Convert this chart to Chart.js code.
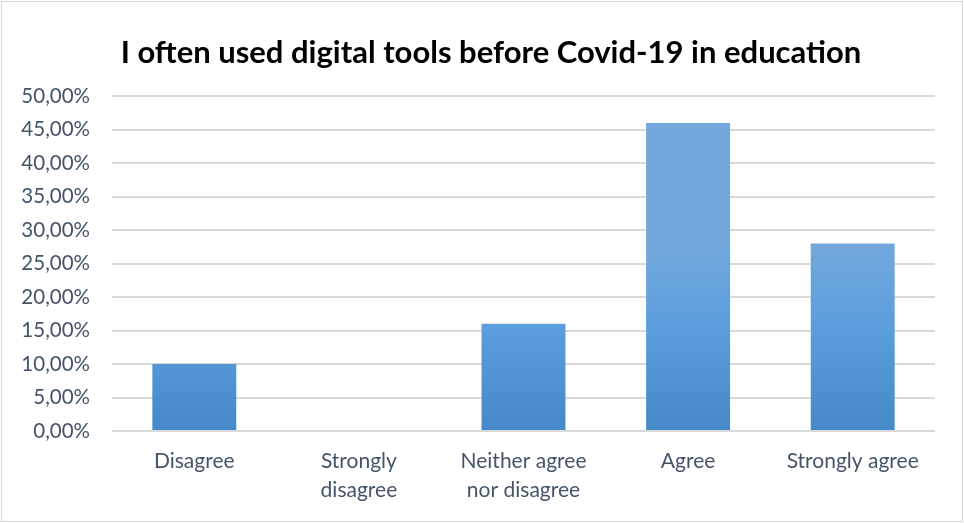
<!DOCTYPE html>
<html>

<head>
    <meta charset="UTF-8">
    <title>Digital tools before Covid-19</title>
    <script src="https://cdn.jsdelivr.net/npm/chart.js@4"></script>
    <style>
        html, body { margin: 0; padding: 0; background: #fff; }
        #wrap {
            position: absolute;
            left: 1px; top: 1px;
            width: 960px; height: 519px;
            border: 1px solid #d9d9d9;
            background: #fff;
        }
    </style>
</head>

<body>
    <div id="wrap"><canvas id="surveyChart"></canvas></div>

    <script>
        const answers = ["Disagree", ["Strongly", "disagree"], ["Neither agree", "nor disagree"], "Agree", "Strongly agree"];
        const shares = [10, 0, 16, 46, 28];
        const yTicks = [0, 5, 10, 15, 20, 25, 30, 35, 40, 45, 50];

        const textColor = "#44546a";
        const gridColor = "#d9d9d9";

        // vertical gradient per bar, from the bar's top down to its base
        const barGradient = {
            id: "barGradient",
            beforeDatasetDraw(chart, args) {
                const ctx = chart.ctx;
                args.meta.data.forEach(bar => {
                    if (bar.base === bar.y) return;
                    const g = ctx.createLinearGradient(0, bar.y, 0, bar.base);
                    g.addColorStop(0, "#72a8dc");
                    g.addColorStop(0.5, "#599cdc");
                    g.addColorStop(1, "#4589c8");
                    bar.options.backgroundColor = g;
                });
            }
        };

        // centre the title over the plot area rather than the whole canvas
        const titleShift = {
            id: "titleShift",
            afterLayout(chart) {
                const t = chart.titleBlock;
                if (!t) return;
                t.left += 14;
                t.right += 14;
            }
        };

        new Chart(document.getElementById("surveyChart"), {
            type: "bar",
            data: {
                labels: answers,
                datasets: [{
                    data: shares,
                    backgroundColor: "#5b9bd5",
                    borderWidth: 0,
                    categoryPercentage: 1,
                    barPercentage: 0.51
                }]
            },
            plugins: [barGradient, titleShift],
            options: {
                responsive: true,
                maintainAspectRatio: false,
                animation: false,
                layout: { padding: { left: 17, right: 27, top: 18, bottom: 0 } },
                plugins: {
                    legend: { display: false },
                    tooltip: { enabled: false },
                    title: {
                        display: true,
                        text: "I often used digital tools before Covid-19 in education",
                        color: "#000",
                        font: { family: "Lato", size: 31, weight: "bold" },
                        padding: { top: 14, bottom: 25 }
                    }
                },
                scales: {
                    x: {
                        grid: { display: false },
                        border: { display: false },
                        ticks: {
                            color: textColor,
                            font: { family: "Lato", size: 21, lineHeight: 1.38 },
                            padding: 8,
                            maxRotation: 0
                        },
                        afterFit: axis => {
                            axis.height = 90;
                            axis.paddingLeft = 0;
                            axis.paddingRight = 0;
                        }
                    },
                    y: {
                        min: 0,
                        max: 50,
                        afterBuildTicks: axis => {
                            axis.ticks = yTicks.map(v => ({ value: v }));
                        },
                        afterFit: axis => { axis.width = 93; },
                        grid: { color: gridColor, lineWidth: 2, drawTicks: false },
                        border: { display: false },
                        ticks: {
                            color: textColor,
                            font: { family: "Lato", size: 20.5 },
                            padding: 22,
                            callback: v => v.toFixed(2).replace(".", ",") + "%"
                        }
                    }
                }
            }
        });
    </script>
</body>

</html>
